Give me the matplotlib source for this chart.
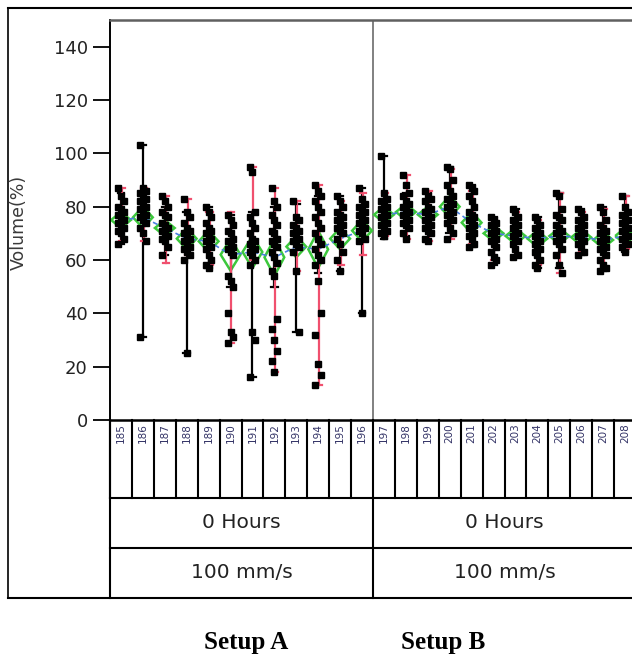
import matplotlib
matplotlib.use("Agg")
import matplotlib.pyplot as plt
from matplotlib.patches import Polygon
from matplotlib.lines import Line2D

# ---------------- data ----------------
labels_a = [str(v) for v in range(185, 197)]
labels_b = [str(v) for v in range(197, 209)]
row1 = ["0 Hours", "0 Hours"]
row2 = ["100 mm/s", "100 mm/s"]
captions = ["Setup A", "Setup B"]

points_a = [
    [87, 84, 82, 80, 79, 78, 77, 76, 75, 74, 73, 72, 71, 70, 68, 66],
    [103, 87, 86, 85, 84, 83, 82, 81, 80, 79, 78, 77, 76, 75, 74, 72, 70, 67, 31],
    [84, 82, 80, 78, 77, 76, 74, 73, 72, 71, 70, 69, 68, 67, 65, 62],
    [83, 78, 76, 74, 72, 71, 70, 69, 68, 67, 66, 65, 64, 63, 62, 60, 25],
    [80, 78, 76, 74, 72, 71, 70, 69, 68, 67, 66, 65, 64, 62, 60, 58, 57],
    [77, 75, 73, 71, 70, 68, 67, 66, 65, 64, 63, 62, 54, 52, 50, 40, 33, 31, 29],
    [95, 93, 78, 76, 74, 72, 70, 68, 67, 66, 65, 64, 63, 62, 60, 58, 33, 30, 16],
    [87, 82, 80, 77, 75, 73, 71, 70, 68, 67, 66, 65, 63, 61, 59, 56, 54, 38, 34, 30, 26, 22, 18],
    [82, 76, 75, 73, 72, 71, 70, 69, 68, 67, 66, 65, 63, 56, 33],
    [88, 86, 84, 82, 80, 78, 76, 74, 72, 70, 68, 66, 64, 62, 60, 58, 52, 40, 32, 21, 17, 13],
    [84, 82, 80, 78, 77, 76, 75, 74, 73, 72, 71, 70, 68, 66, 63, 60, 56],
    [87, 83, 81, 80, 79, 78, 77, 76, 75, 74, 73, 72, 71, 70, 68, 67, 40],
]
points_b = [
    [99, 85, 83, 82, 81, 80, 79, 78, 77, 76, 75, 74, 73, 72, 71, 70, 69],
    [92, 88, 85, 84, 82, 81, 80, 79, 78, 77, 76, 75, 74, 73, 72, 70, 68],
    [86, 84, 83, 82, 80, 79, 78, 77, 76, 75, 74, 73, 72, 71, 70, 68, 67],
    [95, 94, 90, 88, 86, 84, 83, 82, 81, 80, 79, 78, 77, 76, 75, 74, 72, 70, 68],
    [88, 87, 86, 84, 82, 80, 78, 77, 76, 75, 74, 73, 72, 71, 70, 69, 68, 66, 65],
    [76, 75, 74, 73, 72, 71, 70, 69, 68, 67, 66, 65, 63, 61, 60, 58],
    [79, 78, 76, 75, 74, 73, 72, 71, 70, 69, 68, 67, 66, 64, 62, 61],
    [76, 75, 73, 72, 71, 70, 69, 68, 67, 66, 65, 64, 63, 62, 60, 58, 57],
    [85, 84, 79, 77, 76, 75, 73, 72, 71, 70, 69, 68, 67, 66, 64, 62, 58, 55],
    [79, 78, 76, 75, 74, 73, 72, 71, 70, 69, 68, 67, 66, 65, 63, 62],
    [80, 78, 75, 73, 72, 71, 70, 69, 68, 67, 66, 65, 64, 63, 62, 60, 58, 57, 56],
    [84, 80, 78, 77, 76, 75, 74, 73, 72, 71, 70, 69, 68, 67, 66, 65, 63],
]
# range bars: (low, high) of the black and pink sub-cell
black_range_a = [(66, 85), (31, 103), (62, 80), (25, 78), (57, 80), (50, 77),
                 (16, 78), (50, 80), (33, 81), (55, 84), (56, 84), (40, 87)]
pink_range_a = [(67, 87), (67, 87), (59, 84), (62, 83), (58, 78), (29, 78),
                (60, 95), (18, 87), (56, 82), (13, 88), (58, 82), (62, 85)]
black_range_b = [(68, 99), (69, 85), (67, 85), (70, 95), (65, 88), (58, 76),
                 (61, 79), (57, 76), (57, 85), (62, 79), (56, 80), (63, 84)]
pink_range_b = [(69, 85), (68, 92), (67, 86), (68, 94), (66, 86), (60, 75),
                (61, 78), (58, 75), (55, 85), (63, 78), (57, 79), (64, 84)]
means_a = [75, 76, 72, 68, 67, 62, 63, 61, 65, 64, 68, 71]
means_b = [77, 78, 77, 80, 74, 70, 69, 68, 69, 68.5, 67.5, 69]
ci_a = [3, 4, 3, 4, 4, 6, 6, 7, 4, 7, 4, 4]
ci_b = [3, 3, 3, 4, 4, 3, 3, 3, 3, 3, 3, 3]

# ---------------- figure ----------------
W, H = 632, 656
fig = plt.figure(figsize=(W / 100, H / 100), dpi=100)

def fx(px):
    return px / W

def fy(py):
    return 1 - py / H

x_left, x_div, x_right = 110, 373, 636
y_top, y_zero = 20, 420
ax = fig.add_axes([fx(x_left), fy(y_zero), fx(x_right - x_left), (y_zero - y_top) / H])

labels = labels_a + labels_b
points = points_a + points_b
black_range = black_range_a + black_range_b
pink_range = pink_range_a + pink_range_b
means = means_a + means_b
cis = ci_a + ci_b
n = len(labels)

ax.set_xlim(-0.5, n - 0.5)
ax.set_ylim(0, 150)

pink = "#f0506e"
green = "#3cc83c"
blue = "#4a7fe0"

# mean diamonds
for i, (m, h) in enumerate(zip(means, cis)):
    hw = 0.45
    poly = Polygon([(i - hw, m), (i, m + h), (i + hw, m), (i, m - h)], closed=True,
                   fill=False, edgecolor=green, linewidth=1.8, zorder=2)
    ax.add_patch(poly)
# blue dashed mean line per setup
ax.plot(range(0, 12), means_a, color=blue, linestyle=(0, (3, 2)), linewidth=1.2, zorder=3)
ax.plot(range(12, 24), means_b, color=blue, linestyle=(0, (3, 2)), linewidth=1.2, zorder=3)

# range bars
for i in range(n):
    lo, hi = black_range[i]
    ax.plot([i, i], [lo, hi], color="black", linewidth=1.6, zorder=4)
    ax.plot([i - 0.15, i + 0.15], [lo, lo], color="black", linewidth=1.6, zorder=4)
    ax.plot([i - 0.15, i + 0.15], [hi, hi], color="black", linewidth=1.6, zorder=4)
    lo, hi = pink_range[i]
    ax.plot([i + 0.04, i + 0.04], [lo, hi], color=pink, linewidth=1.6, zorder=5)
    ax.plot([i - 0.1, i + 0.18], [lo, lo], color=pink, linewidth=1.6, zorder=5)
    ax.plot([i - 0.1, i + 0.18], [hi, hi], color=pink, linewidth=1.6, zorder=5)

# individual points
offsets = [-0.13, 0.0, 0.13]
for i, vals in enumerate(points):
    xs = [i + offsets[k % 3] for k in range(len(vals))]
    ax.plot(xs, vals, linestyle="none", marker="s", markersize=5,
            color="black", zorder=6)

# divider between setups
ax.axvline(11.5, color="#808080", linewidth=1.4, zorder=1)

# axes style
for s in ["right", "bottom"]:
    ax.spines[s].set_visible(False)
ax.spines["left"].set_linewidth(1.4)
ax.spines["top"].set_color("#606060")
ax.spines["top"].set_linewidth(1.8)
ax.set_yticks(range(0, 141, 20))
ax.tick_params(axis="y", length=12, width=1.3, pad=4, labelsize=13, labelcolor="#222222")
ax.set_xticks([])
ax.set_ylabel("Volume(%)", fontsize=12.5, color="#3a3a3a")
ax.yaxis.set_label_coords((28 - x_left) / (x_right - x_left), (y_zero - 222) / (y_zero - y_top))

# ---------------- table below axes ----------------
def hline(y, x0, x1, lw=1.5, color="black"):
    fig.add_artist(Line2D([fx(x0), fx(x1)], [fy(y), fy(y)], color=color, linewidth=lw))

def vline(x, y0, y1, lw=1.5, color="black"):
    fig.add_artist(Line2D([fx(x), fx(x)], [fy(y0), fy(y1)], color=color, linewidth=lw))

gw = (x_right - x_left) / n
hline(y_zero, x_left, W, lw=1.8)
for i in range(n + 1):
    vline(x_left + i * gw, y_zero, 498, lw=1.5)
for i, lab in enumerate(labels):
    fig.text(fx(x_left + (i + 0.5) * gw), fy(y_zero + 3), lab, rotation=90,
             ha="center", va="top", fontsize=7.5, color="#333366")
hline(498, x_left, W, lw=1.5)
hline(548, x_left, W, lw=1.5)
vline(x_left, y_zero, 598, lw=1.5)
vline(x_div, 498, 598, lw=1.5)
for k in range(2):
    x0 = x_left if k == 0 else x_div
    x1 = x_div if k == 0 else x_right
    fig.text(fx((x0 + x1) / 2), fy(523), row1[k], ha="center", va="center",
             fontsize=14.5, color="#222222")
    fig.text(fx((x0 + x1) / 2), fy(573), row2[k], ha="center", va="center",
             fontsize=14.5, color="#222222")

# outer frame
hline(8, 8, W, lw=1.5)
hline(598, 8, W, lw=1.5)
vline(8, 8, 598, lw=1.2)

# captions
fig.text(fx(246), fy(642), captions[0], ha="center", va="center", fontsize=18,
         fontweight="bold", family="Liberation Serif")
fig.text(fx(443), fy(642), captions[1], ha="center", va="center", fontsize=18,
         fontweight="bold", family="Liberation Serif")

fig.savefig("out.png", dpi=100)
